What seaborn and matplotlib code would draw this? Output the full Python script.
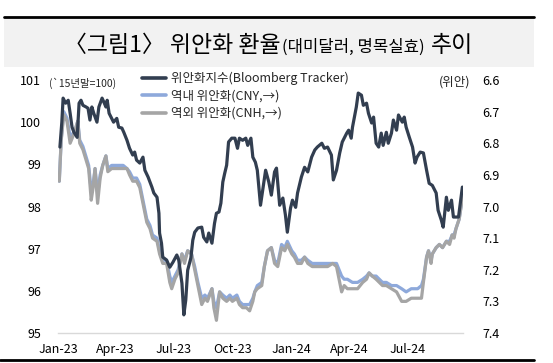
import numpy as np
import pandas as pd
import matplotlib
matplotlib.use('Agg')
import matplotlib.pyplot as plt
from matplotlib.lines import Line2D
from matplotlib.patches import Rectangle
import matplotlib.dates as mdates
import seaborn as sns

# days counted from 2023-01-01
start = pd.Timestamp('2023-01-01')

idx_days = [3, 6, 8, 12, 16, 19, 22, 25, 30, 33, 36, 39, 44, 47, 50, 53, 56, 61, 64, 69,
            72, 75, 77, 80, 84, 87, 92, 95, 100, 103, 108, 112, 117, 120, 123, 128, 133, 136, 141, 147,
            150, 155, 158, 159, 162, 164, 170, 175, 180, 186, 189, 194, 197, 200, 203, 208, 211, 214, 219, 225,
            228, 233, 236, 241, 245, 248, 252, 255, 258, 261, 264, 267, 272, 277, 281, 284, 289, 294, 297, 302,
            305, 309, 312, 317, 320, 325, 330, 334, 339, 342, 347, 352, 356, 359, 364, 367, 372, 375, 381, 386,
            391, 397, 402, 406, 413, 417, 422, 428, 431, 436, 441, 445, 452, 455, 459, 461, 464, 467, 470, 475,
            478, 483, 486, 491, 494, 498, 502, 506, 509, 514, 517, 522, 525, 530, 533, 539, 542, 545, 550, 555,
            559, 562, 567, 572, 577, 581, 586, 592, 595, 600, 603, 608, 611, 616, 619, 623, 627, 631, 633]
idx_vals = [99.41, 100.0, 100.57, 100.45, 100.52, 100.21, 99.88, 99.76, 99.64, 100.45,
            100.52, 100.40, 100.36, 100.33, 100.05, 100.36, 100.21, 100.0, 100.36, 100.57,
            100.47, 100.36, 100.52, 100.21, 100.09, 100.0, 100.09, 99.88, 99.86, 99.76,
            99.57, 99.38, 99.22, 99.29, 99.10, 99.03, 99.17, 98.86, 98.70, 98.46,
            98.32, 98.22, 97.84, 97.37, 97.13, 96.80, 96.73, 96.56, 96.68, 96.85,
            96.73, 96.18, 95.43, 95.78, 96.49, 96.78, 97.20, 97.39, 97.49, 97.51,
            97.27, 97.16, 97.37, 97.13, 97.60, 97.84, 97.87, 98.08, 98.58, 98.79,
            98.98, 99.53, 99.62, 99.62, 99.38, 99.62, 99.57, 99.62, 99.45, 99.62,
            99.17, 99.05, 98.86, 98.03, 98.34, 98.86, 98.58, 98.27, 98.82, 98.91,
            98.03, 98.20, 97.80, 97.39, 97.96, 98.15, 97.98, 98.32, 98.70, 98.93,
            98.82, 99.17, 99.34, 99.41, 99.50, 99.38, 99.41, 99.22, 98.63, 98.86,
            99.27, 99.53, 99.74, 99.81, 99.62, 99.88, 100.12, 100.36, 100.69, 100.64,
            100.40, 100.45, 100.21, 99.98, 100.12, 99.50, 99.41, 99.74, 99.45, 99.76,
            99.50, 99.74, 100.05, 99.81, 100.17, 100.00, 100.12, 99.88, 99.64, 99.41,
            99.03, 99.17, 99.29, 99.27, 98.86, 98.55, 98.50, 98.32, 97.91, 97.68,
            97.51, 98.22, 97.91, 98.15, 97.75, 97.75, 97.75, 98.22, 98.46]

fx_days = [2, 5, 9, 14, 19, 23, 28, 31, 34, 39, 45, 48, 52, 55, 58, 62, 66, 70, 75, 78,
           84, 94, 102, 108, 112, 117, 123, 128, 133, 139, 144, 148, 155, 159, 164, 170, 175, 178, 183, 188,
           194, 198, 203, 209, 214, 219, 225, 230, 234, 241, 244, 248, 253, 258, 264, 269, 273, 280, 284, 289,
           295, 300, 305, 308, 312, 319, 323, 328, 334, 339, 344, 350, 355, 359, 366, 370, 375, 381, 386, 391,
           398, 406, 414, 422, 430, 436, 444, 448, 453, 461, 469, 477, 483, 487, 492, 498, 503, 508, 514, 522,
           530, 538, 545, 553, 558, 563, 569, 572, 577, 580, 584, 586, 592, 597, 602, 608, 613, 617, 620, 623,
           628, 631, 633]
cnh = [6.92, 6.79, 6.71, 6.73, 6.80, 6.78, 6.75, 6.73, 6.80, 6.82, 6.86, 6.88, 6.98, 6.94, 6.88, 6.99, 6.91, 6.87, 6.84, 6.89,
       6.88, 6.88, 6.88, 6.88, 6.90, 6.92, 6.92, 6.94, 6.99, 7.05, 7.07, 7.10, 7.11, 7.15, 7.18, 7.18, 7.24, 7.26, 7.23, 7.21,
       7.15, 7.18, 7.14, 7.15, 7.20, 7.25, 7.31, 7.29, 7.30, 7.26, 7.32, 7.36, 7.27, 7.29, 7.30, 7.29, 7.30, 7.29, 7.31, 7.32,
       7.32, 7.33, 7.30, 7.27, 7.26, 7.25, 7.19, 7.14, 7.13, 7.18, 7.19, 7.13, 7.14, 7.12, 7.15, 7.16, 7.18, 7.18, 7.16, 7.18,
       7.19, 7.19, 7.19, 7.19, 7.18, 7.19, 7.27, 7.25, 7.26, 7.26, 7.26, 7.24, 7.23, 7.21, 7.22, 7.23, 7.24, 7.25, 7.25, 7.26,
       7.27, 7.30, 7.30, 7.29, 7.29, 7.29, 7.29, 7.24, 7.16, 7.14, 7.18, 7.15, 7.13, 7.12, 7.13, 7.11, 7.12, 7.09, 7.10, 7.07,
       7.04, 7.00, 6.97]
cny = [6.92, 6.79, 6.70, 6.72, 6.78, 6.77, 6.75, 6.73, 6.79, 6.81, 6.85, 6.87, 6.95, 6.93, 6.88, 6.96, 6.90, 6.87, 6.84, 6.88,
       6.87, 6.87, 6.87, 6.88, 6.89, 6.91, 6.91, 6.93, 6.98, 7.04, 7.06, 7.09, 7.10, 7.14, 7.17, 7.17, 7.22, 7.24, 7.22, 7.20,
       7.15, 7.17, 7.14, 7.15, 7.19, 7.24, 7.29, 7.28, 7.29, 7.26, 7.30, 7.32, 7.27, 7.28, 7.29, 7.28, 7.29, 7.28, 7.30, 7.31,
       7.31, 7.31, 7.29, 7.27, 7.25, 7.24, 7.19, 7.14, 7.13, 7.17, 7.18, 7.12, 7.13, 7.11, 7.14, 7.15, 7.17, 7.17, 7.16, 7.17,
       7.18, 7.18, 7.18, 7.18, 7.18, 7.18, 7.22, 7.23, 7.23, 7.24, 7.24, 7.23, 7.22, 7.21, 7.22, 7.22, 7.23, 7.24, 7.24, 7.25,
       7.25, 7.26, 7.27, 7.26, 7.26, 7.26, 7.25, 7.23, 7.16, 7.14, 7.17, 7.15, 7.13, 7.12, 7.13, 7.11, 7.11, 7.09, 7.09, 7.07,
       7.04, 7.00, 6.97]

x_ticks = ['2023-01-01', '2023-04-01', '2023-07-01', '2023-10-01',
           '2024-01-01', '2024-04-01', '2024-07-01']
left_ticks = [95, 96, 97, 98, 99, 100, 101]
right_ticks = [6.6, 6.7, 6.8, 6.9, 7.0, 7.1, 7.2, 7.3, 7.4]
labels = ['위안화지수(Bloomberg Tracker)', '역내 위안화(CNY,→)', '역외 위안화(CNH,→)']

NAVY, BLUE, GRAY = '#323E50', '#8EA9DB', '#A5A5A5'
LW = 2.3

idx_df = pd.DataFrame({'date': start + pd.to_timedelta(idx_days, unit='D'), 'val': idx_vals})
fx_df = pd.DataFrame({'date': start + pd.to_timedelta(fx_days, unit='D'), 'CNY': cny, 'CNH': cnh})

sns.set_style('white')
plt.rcParams['font.family'] = ['Noto Sans CJK KR', 'DejaVu Sans']

W, H = 553, 363
fig = plt.figure(figsize=(W / 100, H / 100), dpi=100)
ax = fig.add_axes([58 / W, 30 / H, 405 / W, 253 / H])
ax2 = ax.twinx()

sns.lineplot(data=fx_df, x='date', y='CNY', ax=ax2, color=BLUE, lw=LW)
sns.lineplot(data=fx_df, x='date', y='CNH', ax=ax2, color=GRAY, lw=LW)
sns.lineplot(data=idx_df, x='date', y='val', ax=ax, color=NAVY, lw=LW)
ax.set_zorder(ax2.get_zorder() + 1)
ax.patch.set_visible(False)

ax.set_xlim(start, start + pd.Timedelta(days=634))
ax.set_ylim(95, 101)
ax2.set_ylim(7.4, 6.6)
ax.set_yticks(left_ticks)
ax2.set_yticks(right_ticks)
ax2.set_yticklabels([f'{t:.1f}' for t in right_ticks])
ax.set_xticks([pd.Timestamp(t) for t in x_ticks])
ax.xaxis.set_major_formatter(mdates.DateFormatter('%b-%y'))
for a in (ax, ax2):
    a.set_xlabel('')
    a.set_ylabel('')
    for s in a.spines.values():
        s.set_visible(False)
ax.spines['bottom'].set_visible(True)
ax.spines['bottom'].set_color('#D9D9D9')
ax.spines['bottom'].set_linewidth(1)
ax.tick_params(axis='x', length=4, color='#D9D9D9', width=1, pad=3, labelsize=9, labelcolor='#000000')
ax.tick_params(axis='y', length=0, pad=12, labelsize=9, labelcolor='#000000')
ax2.tick_params(axis='y', length=0, pad=14, labelsize=9, labelcolor='#000000')

fig.text(49 / W, 1 - 83 / H, '(`15년말=100)', fontsize=7.5, va='center', ha='left')
fig.text(470 / W, 1 - 82 / H, '(위안)', fontsize=9, va='center', ha='right')

handles = [Line2D([], [], color=c, lw=2.6) for c in (NAVY, BLUE, GRAY)]
ax.legend(handles, labels, loc='upper left', bbox_to_anchor=(142 / W, 1 - 72 / H),
          bbox_transform=fig.transFigure, frameon=False, fontsize=9,
          handlelength=1.9, handletextpad=0.4, labelspacing=0.35,
          borderpad=0, borderaxespad=0)

# title band
fig.add_artist(Rectangle((4 / W, 1 - 67 / H), 530 / W, 49 / H, transform=fig.transFigure,
                         facecolor='#F2F2F2', edgecolor='none', zorder=0))
fig.add_artist(Line2D([4 / W, 534 / W], [1 - 17 / H, 1 - 17 / H], transform=fig.transFigure,
                      color='black', lw=2))
fig.add_artist(Line2D([0, 534 / W], [1 - 360 / H, 1 - 360 / H], transform=fig.transFigure,
                      color='black', lw=2))

parts = [('〈그림1〉 위안화 환율', 16.5), ('(대미달러, 명목실효)', 12), ('추이', 16.5)]
renderer = fig.canvas.get_renderer()
texts = []
widths = []
for s, fs in parts:
    t = fig.text(0, 1 - 52 / H, s, fontsize=fs, va='baseline', ha='left', color='black')
    texts.append(t)
    widths.append(t.get_window_extent(renderer).width)
total = sum(widths) + 1 + 6
x = 268.5 - total / 2
for i, t in enumerate(texts):
    if i == 1:
        x += 1
    if i == 2:
        x += 6
    t.set_x(x / W)
    x += widths[i]

fig.savefig('out.png', dpi=100)
